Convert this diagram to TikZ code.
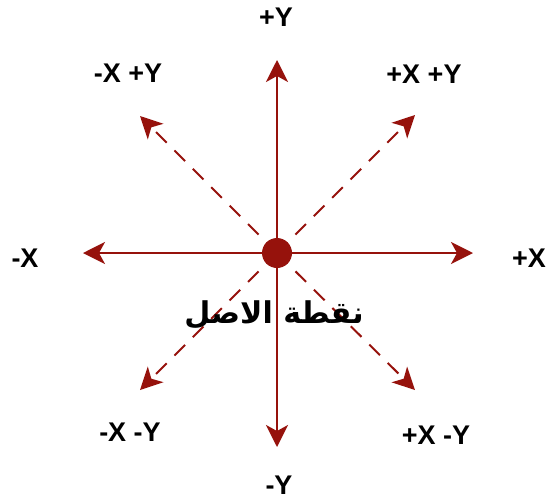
\documentclass[tikz,border=0pt]{standalone}
\usepackage{fontspec}
\setmainfont{Liberation Sans}
\newfontfamily\arabicfont[Script=Arabic]{DejaVu Sans}
\TeXXeTstate=1
\usetikzlibrary{arrows.meta}
\definecolor{axred}{RGB}{150,18,12}
\begin{document}
\begin{tikzpicture}[x=1pt,y=-1pt,
  tip/.style={-{Stealth[length=22pt,width=22pt,inset=6pt]}},
  axis/.style={draw=axred,line width=2pt,tip},
  diag/.style={draw=axred,line width=2pt,dash pattern=on 15pt off 11pt,tip},
  lbl/.style={font=\bfseries\fontsize{27}{30}\selectfont,inner sep=0pt}]
\useasboundingbox (0,0) rectangle (548,501);
\coordinate (O) at (277,253);
\coordinate (up) at (277,60);
\coordinate (down) at (277,447);
\coordinate (left) at (83,253);
\coordinate (right) at (473,253);
\coordinate (ul) at (140,116);
\coordinate (ur) at (415,115);
\coordinate (dl) at (140,390);
\coordinate (dr) at (415,390);
\draw[diag] (O) -- (ul);
\draw[diag] (O) -- (ur);
\draw[diag] (O) -- (dl);
\draw[diag] (O) -- (dr);
\draw[axis] (O) -- (up);
\draw[axis] (O) -- (down);
\draw[axis] (O) -- (left);
\draw[axis] (O) -- (right);
\node[circle,fill=axred,minimum size=30pt,inner sep=0pt] (c) at (O) {};
\node[lbl] (py) at (276,17) {+Y};
\node[lbl] (my) at (279,485) {-Y};
\node[lbl] (mx) at (25,258) {-X};
\node[lbl,anchor=west] (px) at (512,258) {+X};
\node[lbl] (mxpy) at (128,73) {-X +Y};
\node[lbl] (pxpy) at (424,74) {+X +Y};
\node[lbl] (mxmy) at (130,432) {-X -Y};
\node[lbl] (pxmy) at (436,435) {+X -Y};
\node[font=\arabicfont\bfseries\fontsize{30}{34}\selectfont,inner sep=0pt] (orig) at (274,315) {\beginR نقطة الاصل\endR};
\end{tikzpicture}
\end{document}
